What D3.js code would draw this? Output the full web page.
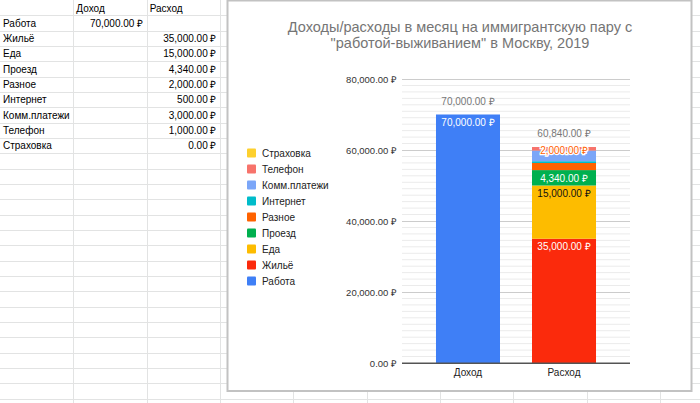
<!DOCTYPE html>
<html>
<head>
<meta charset="utf-8">
<script src="https://cdn.jsdelivr.net/npm/d3@7"></script>
<style>
  body { margin: 0; background: #fff; }
  svg { display: block; font-family: Arial, 'Liberation Sans', sans-serif; }
</style>
</head>
<body>
<svg id="sheet" width="700" height="403"></svg>
<script>
// table / chart data
const columns = ['Доход', 'Расход'];
const categories = ['Работа', 'Жильё', 'Еда', 'Проезд', 'Разное', 'Интернет', 'Комм.платежи', 'Телефон', 'Страховка'];
const income = [70000, null, null, null, null, null, null, null, null];
const expense = [null, 35000, 15000, 4340, 2000, 500, 3000, 1000, 0];
const colors = ['#3f7ff6', '#fb2a0c', '#fdbc00', '#00b04f', '#ff6200', '#00bcca', '#7ba6f8', '#f7736b', '#fdd02e'];
const yTicks = [0, 20000, 40000, 60000, 80000];
const minorPerMajor = 11;
const labelled = ['Работа', 'Жильё', 'Еда', 'Проезд', 'Разное'];
const darkText = ['Еда'];
const title = ['Доходы/расходы в месяц на иммигрантскую пару с', '"работой-выживанием" в Москву, 2019'];

const fmt = (v) => d3.format(',.2f')(v) + ' ₽';

const svg = d3.select('#sheet');

/* spreadsheet grid behind the chart */
const rowH = 15.33, colW = 73.33;
const grid = svg.append('g').attr('stroke', '#e2e3e3').attr('stroke-width', 1);
grid.selectAll('.h').data(d3.range(1, 27)).enter().append('line')
  .attr('x1', 0).attr('x2', 700)
  .attr('y1', (d) => Math.round(d * rowH) + 0.5).attr('y2', (d) => Math.round(d * rowH) + 0.5);
grid.selectAll('.v').data(d3.range(1, 10)).enter().append('line')
  .attr('y1', 0).attr('y2', 403)
  .attr('x1', (d) => Math.round(d * colW) + 0.5).attr('x2', (d) => Math.round(d * colW) + 0.5);

const cells = svg.append('g').attr('font-size', 10).attr('fill', '#000');
cells.selectAll('.hdr').data(columns).enter().append('text')
  .attr('x', (d, i) => (i + 1) * colW + 3).attr('y', 11.5).text((d) => d);
categories.forEach((c, i) => {
  const y = (i + 1) * rowH + 11.5;
  cells.append('text').attr('x', 3).attr('y', y).text(c);
  [income[i], expense[i]].forEach((v, j) => {
    if (v === null) return;
    cells.append('text').attr('x', (j + 2) * colW - 3.5).attr('y', y)
      .attr('text-anchor', 'end').text(fmt(v));
  });
});

/* chart frame */
svg.append('rect').attr('x', 227.5).attr('y', 0.5).attr('width', 464).attr('height', 390.5)
  .attr('fill', '#fff').attr('stroke', '#c2c2c2').attr('stroke-width', 2);

svg.append('g').attr('font-size', 14.5).attr('fill', '#757575').attr('text-anchor', 'middle')
  .selectAll('text').data(title).enter().append('text')
  .attr('x', 460).attr('y', (d, i) => 32 + i * 16).text((d) => d);

const x = d3.scaleBand().domain(columns).range([402, 630]).paddingInner(1 / 3).paddingOuter(0.354);
const y = d3.scaleLinear().domain([0, 80000]).range([363, 79]);

// minor gridlines
const minors = [];
for (let i = 0; i < yTicks.length - 1; i++) {
  for (let k = 1; k < minorPerMajor; k++) {
    minors.push(yTicks[i] + (yTicks[i + 1] - yTicks[i]) * k / minorPerMajor);
  }
}
svg.append('g').selectAll('line').data(minors).enter().append('line')
  .attr('x1', 402).attr('x2', 630)
  .attr('y1', (d) => y(d)).attr('y2', (d) => y(d))
  .attr('stroke', '#ebebeb');

const yAxis = svg.append('g')
  .attr('transform', 'translate(402,0)')
  .call(d3.axisLeft(y).tickValues(yTicks).tickFormat(fmt).tickSize(-228).tickPadding(5));
yAxis.select('.domain').remove();
yAxis.selectAll('.tick line').attr('stroke', (d) => d === 0 ? '#555' : '#cccccc');
yAxis.selectAll('.tick text').attr('font-size', 9.5).attr('fill', '#333')
  .attr('font-family', 'Arial, Liberation Sans, sans-serif');

// stacked bars
const rows = columns.map((c, i) => {
  const r = {col: c};
  categories.forEach((k, j) => { r[k] = (i === 0 ? income[j] : expense[j]) || 0; });
  return r;
});
const series = d3.stack().keys(categories)(rows);

const bars = svg.append('g');
series.forEach((s, si) => {
  bars.selectAll('.s' + si).data(s.filter((d) => d[1] > d[0])).enter().append('rect')
    .attr('x', (d) => x(d.data.col))
    .attr('width', x.bandwidth())
    .attr('y', (d) => y(d[1]))
    .attr('height', (d) => y(d[0]) - y(d[1]))
    .attr('fill', colors[si]);
});

// zero baseline on top of bars
svg.append('line').attr('x1', 402).attr('x2', 630).attr('y1', y(0)).attr('y2', y(0))
  .attr('stroke', '#555');

// segment labels
const labels = svg.append('g').attr('font-size', 10).attr('text-anchor', 'middle');
series.forEach((s, si) => {
  const key = categories[si];
  if (!labelled.includes(key)) return;
  s.forEach((d) => {
    const v = d[1] - d[0];
    if (v <= 0) return;
    const cx = x(d.data.col) + x.bandwidth() / 2;
    const h = y(d[0]) - y(d[1]);
    if (h >= 14) {
      labels.append('text').attr('x', cx).attr('y', y(d[1]) + 11.5)
        .attr('fill', darkText.includes(key) ? '#111' : '#fff').text(fmt(v));
    } else {
      // too thin: pushed up to the top of the stack
      const top = y(d3.sum(categories, (k) => d.data[k]));
      labels.append('text').attr('x', cx).attr('y', top + 6.5)
        .attr('fill', colors[si]).attr('stroke', '#fff').attr('stroke-width', 2.5)
        .attr('paint-order', 'stroke').text(fmt(v));
    }
  });
});

// totals
svg.append('g').attr('font-size', 10).attr('fill', '#777').attr('text-anchor', 'middle')
  .selectAll('text').data(rows).enter().append('text')
  .attr('x', (d) => x(d.col) + x.bandwidth() / 2)
  .attr('y', (d) => y(d3.sum(categories, (k) => d[k])) - 10)
  .text((d) => fmt(d3.sum(categories, (k) => d[k])));

// x labels
svg.append('g').attr('font-size', 10).attr('fill', '#222').attr('text-anchor', 'middle')
  .selectAll('text').data(columns).enter().append('text')
  .attr('x', (d) => x(d) + x.bandwidth() / 2).attr('y', 376).text((d) => d);

// legend, reversed
const legend = svg.append('g').attr('transform', 'translate(247,153)');
const legItems = legend.selectAll('g').data(categories.map((c, i) => ({c, i})).reverse())
  .enter().append('g').attr('transform', (d, i) => `translate(0,${i * 16})`);
legItems.append('rect').attr('x', 0).attr('y', -4.5).attr('width', 9).attr('height', 9)
  .attr('rx', 1).attr('fill', (d) => colors[d.i]);
legItems.append('text').attr('x', 15).attr('y', 3.5).attr('font-size', 10).attr('fill', '#222')
  .text((d) => d.c);
</script>
</body>
</html>
